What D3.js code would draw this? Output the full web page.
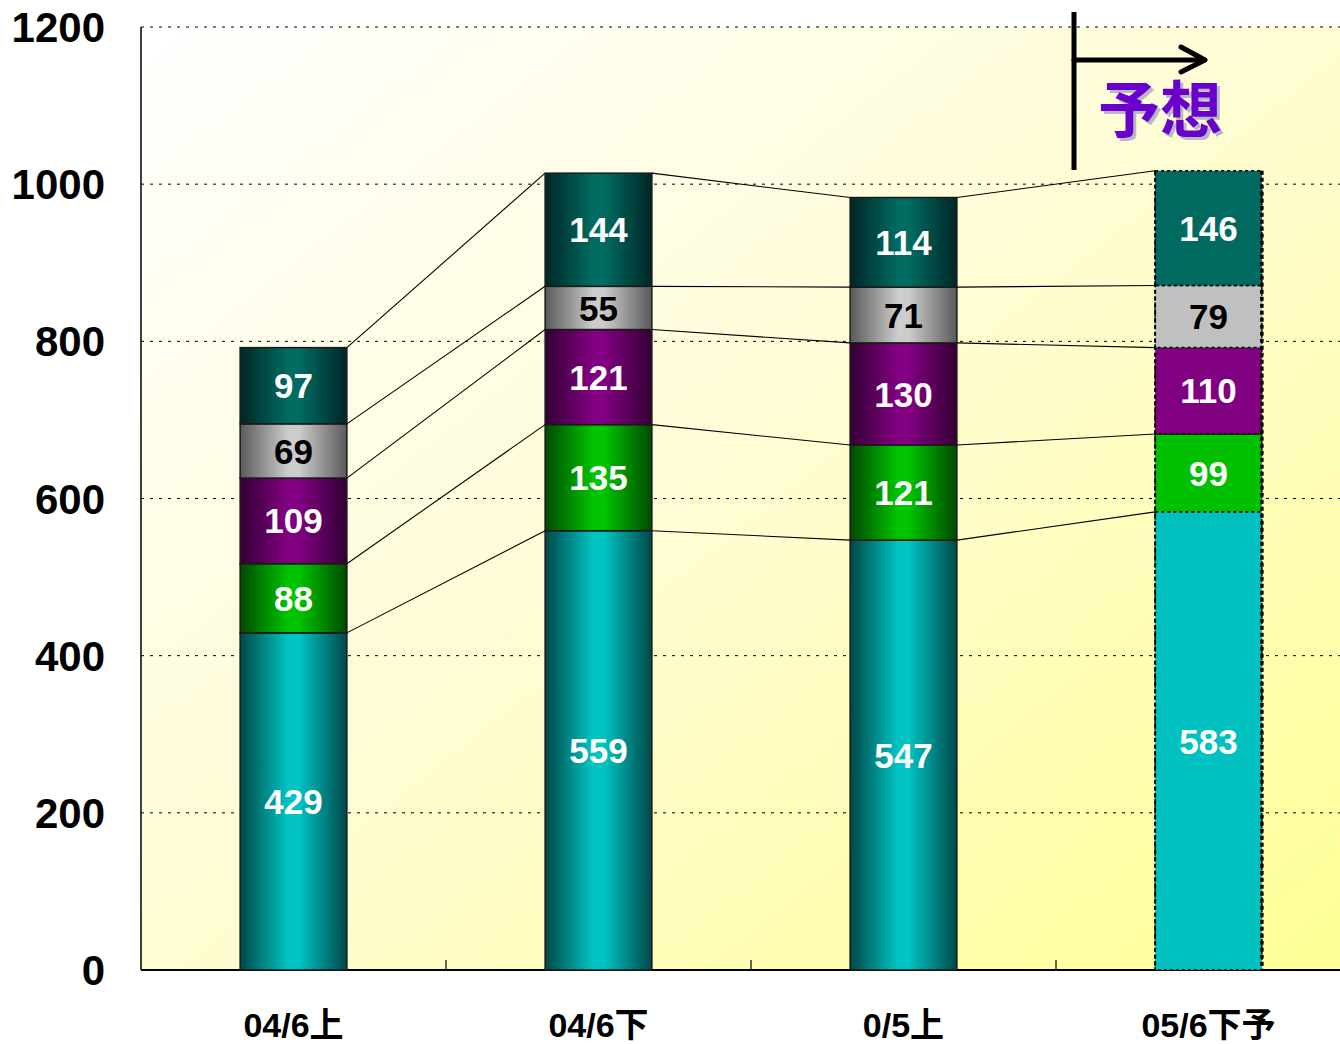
<!DOCTYPE html>
<html>
<head>
<meta charset="utf-8">
<script src="https://cdn.jsdelivr.net/npm/d3@7"></script>
<style>
  body { margin: 0; background: #fff; }
  svg { display: block; }
  .lbl { font-family: "Liberation Sans", Arial, sans-serif; font-weight: bold; }
</style>
</head>
<body>
<div id="chart"></div>
<script>
// data
var categories = ['04/6上', '04/6下', '0/5上', '05/6下予'];
var keys = ['s1', 's2', 's3', 's4', 's5'];
var s1 = [429, 559, 547, 583];
var s2 = [88, 135, 121, 99];
var s3 = [109, 121, 130, 110];
var s4 = [69, 55, 71, 79];
var s5 = [97, 144, 114, 146];
var yTicks = [0, 200, 400, 600, 800, 1000, 1200];
var forecastLabel = '予想';

var rows = categories.map(function(c, i) {
    return {cat: c, s1: s1[i], s2: s2[i], s3: s3[i], s4: s4[i], s5: s5[i], forecast: i === 3};
});

var W = 1340, H = 1044;
var pLeft = 141, pRight = 1361, pTop = 27, pBottom = 970;

var svg = d3.select('#chart').append('svg')
    .attr('width', W).attr('height', H);

var defs = svg.append('defs');

// background gradient
var bg = defs.append('linearGradient').attr('id', 'bgGrad')
    .attr('x1', 0).attr('y1', 0).attr('x2', 1).attr('y2', 1);
bg.append('stop').attr('offset', 0).attr('stop-color', '#ffffff');
bg.append('stop').attr('offset', 0.45).attr('stop-color', '#fffcd8');
bg.append('stop').attr('offset', 1).attr('stop-color', '#ffff96');

// colors per series: [edge, center, flat]
var colors = {
    s1: ['#004848', '#00c4c4', '#00c0c0'],
    s2: ['#004a00', '#00c400', '#00c000'],
    s3: ['#330033', '#820082', '#800080'],
    s4: ['#5a5a5a', '#cccccc', '#c0c0c0'],
    s5: ['#002626', '#006c62', '#006a60']
};
var textColors = {s1: '#fff', s2: '#fff', s3: '#fff', s4: '#000', s5: '#fff'};

keys.forEach(function(k) {
    var g = defs.append('linearGradient').attr('id', 'grad_' + k)
        .attr('x1', 0).attr('y1', 0).attr('x2', 1).attr('y2', 0);
    g.append('stop').attr('offset', 0).attr('stop-color', colors[k][0]);
    g.append('stop').attr('offset', 0.45).attr('stop-color', colors[k][1]);
    g.append('stop').attr('offset', 0.55).attr('stop-color', colors[k][1]);
    g.append('stop').attr('offset', 1).attr('stop-color', colors[k][0]);
});

var x = d3.scaleBand()
    .domain(categories)
    .range([pLeft, pRight])
    .paddingInner(0.65)
    .paddingOuter(0.325);

var y = d3.scaleLinear().domain([0, 1200]).range([pBottom, pTop]);

// plot background
svg.append('rect')
    .attr('x', pLeft).attr('y', pTop)
    .attr('width', W - pLeft).attr('height', pBottom - pTop)
    .attr('fill', 'url(#bgGrad)');

// gridlines
svg.append('g')
    .selectAll('line')
    .data(yTicks.filter(function(d) { return d > 0; }))
    .enter()
    .append('line')
    .attr('x1', pLeft).attr('x2', W)
    .attr('y1', function(d) { return y(d); })
    .attr('y2', function(d) { return y(d); })
    .attr('stroke', '#000')
    .attr('stroke-width', 1)
    .attr('stroke-dasharray', '3,6');

// y labels
svg.append('g')
    .selectAll('text')
    .data(yTicks)
    .enter()
    .append('text')
    .attr('class', 'lbl')
    .attr('x', 105)
    .attr('y', function(d) { return y(d); })
    .attr('dy', '0.36em')
    .attr('text-anchor', 'end')
    .attr('font-size', 42)
    .text(function(d) { return d; });

// axes lines
svg.append('line')
    .attr('x1', pLeft).attr('x2', pLeft).attr('y1', pTop).attr('y2', pBottom)
    .attr('stroke', '#000').attr('stroke-width', 1.5);
svg.append('line')
    .attr('x1', pLeft).attr('x2', W).attr('y1', pBottom).attr('y2', pBottom)
    .attr('stroke', '#000').attr('stroke-width', 2);

// x tick marks between categories
svg.append('g')
    .selectAll('line')
    .data(categories.slice(1))
    .enter()
    .append('line')
    .attr('x1', function(d) { return x(d) - x.step() * x.paddingInner() / 2; })
    .attr('x2', function(d) { return x(d) - x.step() * x.paddingInner() / 2; })
    .attr('y1', pBottom).attr('y2', pBottom - 10)
    .attr('stroke', '#000').attr('stroke-width', 1.2);

var stacked = d3.stack().keys(keys)(rows);

// connector lines between bars
stacked.forEach(function(layer) {
    for (var i = 0; i < layer.length - 1; i++) {
        var a = layer[i], b = layer[i + 1];
        svg.append('line')
            .attr('x1', x(a.data.cat) + x.bandwidth())
            .attr('y1', y(a[1]))
            .attr('x2', x(b.data.cat))
            .attr('y2', y(b[1]))
            .attr('stroke', '#000').attr('stroke-width', 1.1);
    }
});

// bars
var layers = svg.append('g')
    .selectAll('g.layer')
    .data(stacked)
    .enter()
    .append('g')
    .attr('class', 'layer');

layers.selectAll('rect')
    .data(function(d) { return d.map(function(p) { p.key = d.key; return p; }); })
    .enter()
    .append('rect')
    .attr('x', function(d) { return x(d.data.cat); })
    .attr('y', function(d) { return y(d[1]); })
    .attr('width', x.bandwidth())
    .attr('height', function(d) { return y(d[0]) - y(d[1]); })
    .attr('fill', function(d) { return d.data.forecast ? colors[d.key][2] : 'url(#grad_' + d.key + ')'; })
    .attr('stroke', function(d) { return d.data.forecast ? '#000' : '#1a1a1a'; })
    .attr('stroke-width', 1.5)
    .attr('stroke-dasharray', function(d) { return d.data.forecast ? '3,3' : null; });

// thicker dotted edges for forecast bar
var fc = rows.filter(function(r) { return r.forecast; })[0];
var fcTotal = keys.reduce(function(s, k) { return s + fc[k]; }, 0);
[[x(fc.cat), 2], [x(fc.cat) + x.bandwidth(), 3.5]].forEach(function(e) {
    svg.append('line')
        .attr('x1', e[0]).attr('x2', e[0])
        .attr('y1', y(fcTotal)).attr('y2', y(0))
        .attr('stroke', '#000').attr('stroke-width', e[1]).attr('stroke-dasharray', '4,3');
});

// segment labels
layers.selectAll('text')
    .data(function(d) { return d; })
    .enter()
    .append('text')
    .attr('class', 'lbl')
    .attr('x', function(d) { return x(d.data.cat) + x.bandwidth() / 2; })
    .attr('y', function(d) { return (y(d[0]) + y(d[1])) / 2; })
    .attr('dy', '0.36em')
    .attr('text-anchor', 'middle')
    .attr('font-size', 35)
    .attr('fill', function(d) { return textColors[d.key]; })
    .text(function(d) { return d[1] - d[0]; });

// x labels
svg.append('g')
    .selectAll('text')
    .data(categories)
    .enter()
    .append('text')
    .attr('class', 'lbl')
    .attr('x', function(d) { return x(d) + x.bandwidth() / 2; })
    .attr('y', 1037)
    .attr('text-anchor', 'middle')
    .attr('font-size', 34)
    .style('font-family', '"Liberation Sans", "Noto Sans CJK JP", sans-serif')
    .text(function(d) { return d; });

// forecast arrow
var ax = x(fc.cat) - x.step() * x.paddingInner() / 2 + 18;
var arrow = svg.append('g').attr('stroke', '#000').attr('stroke-width', 5)
    .attr('fill', 'none').attr('stroke-linecap', 'round').attr('stroke-linejoin', 'round');
arrow.append('line').attr('x1', ax).attr('x2', ax).attr('y1', 12).attr('y2', 170).attr('stroke-linecap', 'butt');
arrow.append('line').attr('x1', ax).attr('x2', ax + 130).attr('y1', 60).attr('y2', 60);
arrow.append('polyline')
    .attr('points', [[ax + 107, 47], [ax + 131, 60], [ax + 107, 72]].map(function(p) { return p.join(','); }).join(' '));

// label with drop shadow
var fl = svg.append('g')
    .attr('font-family', '"Noto Sans CJK JP", sans-serif')
    .attr('font-weight', 'bold')
    .attr('font-size', 62);
fl.append('text')
    .attr('x', ax + 27).attr('y', 136)
    .attr('fill', '#b8b8c8')
    .text(forecastLabel);
fl.append('text')
    .attr('x', ax + 24).attr('y', 133)
    .attr('fill', '#6a00cc')
    .text(forecastLabel);
</script>
</body>
</html>
